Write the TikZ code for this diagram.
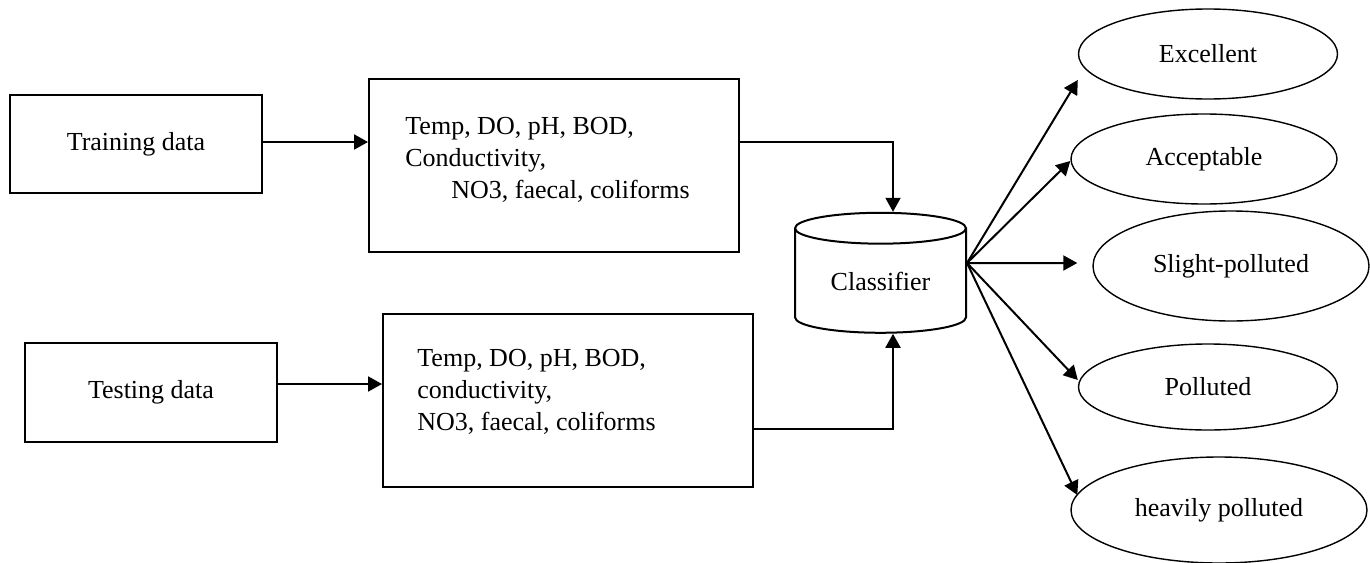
\documentclass[tikz,border=0pt]{standalone}
\usepackage{fontspec}
\setmainfont{Liberation Serif}
\usetikzlibrary{shapes.geometric,arrows.meta}

\begin{document}
\begin{tikzpicture}[x=0.5pt,y=-0.5pt,
    font=\fontsize{13}{16}\selectfont,
    box/.style={draw,line width=1pt,inner sep=0pt},
    para/.style={align=left,inner sep=0pt,anchor=north west},
    store/.style={cylinder,shape border rotate=90,aspect=0.31,draw,line width=1pt,
                  minimum width=85.5pt,minimum height=60pt,inner sep=0pt},
    grade/.style={ellipse,draw,line width=0.7pt,inner sep=0pt},
    link/.style={line width=1pt,-{Triangle[length=7pt,width=7.5pt]}}]
  \useasboundingbox (0,0) rectangle (1370,562);

  \node[box,minimum width=126pt,minimum height=49pt] (train) at (136,144) {Training data};
  \node[box,minimum width=126pt,minimum height=49.5pt] (test) at (151,392.5) {Testing data};

  \node[box,minimum width=185pt,minimum height=86.5pt] (feat1) at (554,165.5) {};
  \node[para] (feat1txt) at (405,116.5) {Temp, DO, pH, BOD,\\Conductivity,\\\hspace*{23pt}NO3, faecal, coliforms};
  \node[box,minimum width=185pt,minimum height=86.5pt] (feat2) at (568,400.5) {};
  \node[para] (feat2txt) at (417,348.5) {Temp, DO, pH, BOD,\\conductivity,\\NO3, faecal, coliforms};

  \draw[link] ([yshift=1pt]train.east) -- ([yshift=11.75pt]feat1.west);
  \draw[link] ([yshift=4.25pt]test.east) -- ([yshift=8.25pt]feat2.west);

  \node[store] (cls) at (880.5,281) {Classifier};
  \draw[link] ([yshift=11.75pt]feat1.east) -| ([xshift=6.25pt]cls.north);
  \draw[link] ([yshift=-14.25pt]feat2.east) -| ([xshift=6.25pt]cls.south);

  % outcome classes
  \node[grade,minimum width=129.5pt,minimum height=45pt] (exc) at (1208,54) {Excellent};
  \node[grade,minimum width=133pt,minimum height=45pt] (acc) at (1204,159) {Acceptable};
  \node[grade,minimum width=138pt,minimum height=55pt] (slight) at (1231,266) {Slight-polluted};
  \node[grade,minimum width=129.5pt,minimum height=43pt] (poll) at (1208,387) {Polluted};
  \node[grade,minimum width=148pt,minimum height=53pt] (heavy) at (1219,510) {heavily polluted};

  \coordinate (fan) at ([yshift=9pt]cls.east);
  \draw[link] (fan) -- ([yshift=-13pt]exc.west);
  \draw[link] (fan) -- ([yshift=-1pt]acc.west);
  \draw[link] (fan) -- ([xshift=-7.5pt,yshift=1.5pt]slight.west);
  \draw[link] (fan) -- ([yshift=3.5pt]poll.west);
  \draw[link] (fan) -- ([xshift=3.5pt,yshift=7.5pt]heavy.west);
\end{tikzpicture}
\end{document}
